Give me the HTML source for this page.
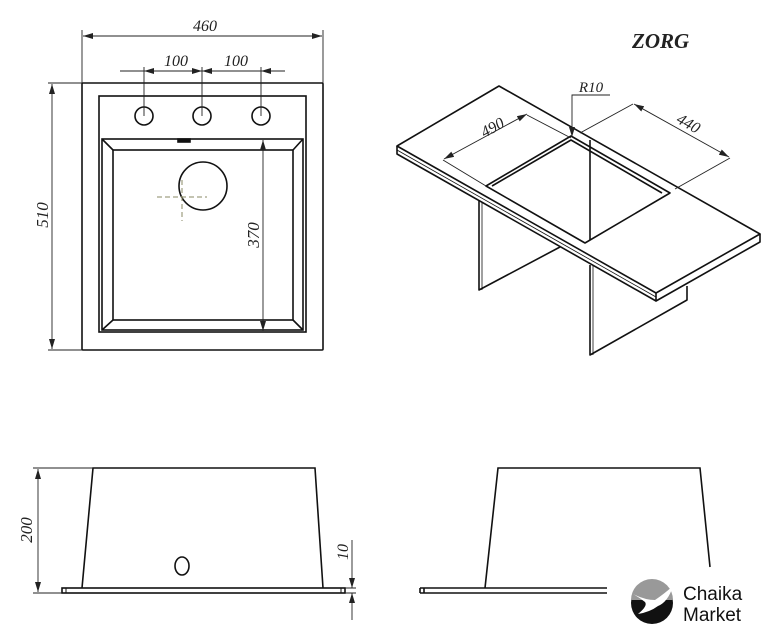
<!DOCTYPE html>
<html><head><meta charset="utf-8"><style>
html,body{margin:0;padding:0;background:#fff;}
svg{display:block;}
text{font-family:"Liberation Serif",serif;font-style:italic;fill:#222;}
</style></head><body>
<svg width="782" height="640" viewBox="0 0 782 640" xmlns="http://www.w3.org/2000/svg">
<defs>
<marker id="a" viewBox="0 0 10 6" refX="10" refY="3" markerWidth="10" markerHeight="6" orient="auto-start-reverse" markerUnits="userSpaceOnUse"><path d="M0,0 L10,3 L0,6 z" fill="#222"/></marker>
</defs>
<g stroke="#111" fill="none" stroke-width="1.6">
<rect x="82" y="83" width="241" height="267" rx="1"/>
<rect x="99" y="96" width="207" height="236"/>
<rect x="102" y="139" width="201" height="191"/>
<rect x="113" y="150" width="180" height="170"/>
<path d="M102,139 L113,150 M303,139 L293,150 M102,330 L113,320 M303,330 L293,320"/>
<circle cx="144" cy="116" r="9"/><circle cx="202" cy="116" r="9"/><circle cx="261" cy="116" r="9"/>
<circle cx="203" cy="186" r="24"/>
<rect x="178" y="139" width="12" height="3" fill="#111"/>
</g>
<g stroke="#886" stroke-width="1" stroke-dasharray="5,3"><path d="M157,197 H207 M182,180 V221"/></g>
<g stroke="#222" stroke-width="0.9" fill="none">
<path d="M82,30 V83 M323,30 V83" />
<path d="M83,36 H322" marker-start="url(#a)" marker-end="url(#a)"/>
<path d="M144,67 V116 M202,67 V116 M261,67 V116"/>
<path d="M120,71 H144 M202,71 H144" marker-end="url(#a)"/>
<path d="M202,71 H285 M261,71 H202" />
<path d="M180,71 H202" marker-end="url(#a)"/><path d="M225,71 H202" marker-end="url(#a)"/><path d="M285,71 H261" marker-end="url(#a)"/>
<path d="M48,83 H82 M48,350 H82"/>
<path d="M52,84 V349" marker-start="url(#a)" marker-end="url(#a)"/>
<path d="M263,140 V331" marker-start="url(#a)" marker-end="url(#a)"/>
</g>
<text x="205" y="31" font-size="16" text-anchor="middle">460</text>
<text x="176" y="66" font-size="16" text-anchor="middle">100</text>
<text x="236" y="66" font-size="16" text-anchor="middle">100</text>
<text transform="translate(48,215) rotate(-90)" font-size="17" text-anchor="middle">510</text>
<text transform="translate(259,235) rotate(-90)" font-size="17" text-anchor="middle">370</text>
<text x="632" y="48" font-size="21" font-weight="bold">ZORG</text>
<g stroke="#111" fill="none" stroke-width="1.6" stroke-linejoin="round">
<path d="M397,146 L499,86 L760,234 L656,293 Z" fill="#fff"/>
<path d="M397,146 V154 L656,301 V293 M656,301 L760,242 V234"/>
<path d="M397,150 L656,297" stroke-width="0.8"/>
<path d="M486,186 L571,136 L670,193 L585,243 Z"/>
<path d="M492,186 L571,140 L662,193"/>
<path d="M590,140 V240"/>
<path d="M479,200 V290 L560,247"/>
<path d="M482,202 V290" stroke-width="0.8"/>
<path d="M590,265 V355 L687,300 V286"/>
<path d="M593,266 V355" stroke-width="0.8"/>
</g>
<g stroke="#222" stroke-width="0.9" fill="none">
<path d="M443,160 L486,186 M527,115 L571,138"/>
<path d="M444,159 L527,114" marker-start="url(#a)" marker-end="url(#a)"/>
<path d="M633,104 L580,133 M730,158 L675,189"/>
<path d="M634,104 L729,157" marker-start="url(#a)" marker-end="url(#a)"/>
<path d="M610,95 H572 V137" marker-end="url(#a)"/>
</g>
<text transform="translate(495,132) rotate(-29)" font-size="16" text-anchor="middle">490</text>
<text transform="translate(686,128) rotate(29)" font-size="16" text-anchor="middle">440</text>
<text x="591" y="92" font-size="15" text-anchor="middle">R10</text>
<g stroke="#111" fill="none" stroke-width="1.6">
<path d="M82,588 L93,468 H315 L323,588"/>
<rect x="62" y="588" width="283" height="5"/>
<path d="M66,588 V593 M341,588 V593" stroke-width="1"/>
<ellipse cx="182" cy="566" rx="7" ry="9"/>
<path d="M485,588 L498,468 H700 L710,567"/>
<path d="M420,588 H607 M420,593 H607 M420,588 V593 M424,588 V593"/>
</g>
<g stroke="#222" stroke-width="0.9" fill="none">
<path d="M33,468 H93 M33,593 H62"/>
<path d="M38,469 V592" marker-start="url(#a)" marker-end="url(#a)"/>
<path d="M345,588 H356 M345,593 H356"/>
<path d="M352,540 V588" marker-end="url(#a)"/>
<path d="M352,620 V593" marker-end="url(#a)"/>
</g>
<text transform="translate(32,530) rotate(-90)" font-size="17" text-anchor="middle">200</text>
<text transform="translate(348,552) rotate(-90)" font-size="16" text-anchor="middle">10</text>
<circle cx="652" cy="603" r="21" fill="#111"/>
<path d="M631,600 A21,21 0 0 1 673,600 Z" fill="#999"/>
<path d="M633,594 Q645,600 655,600 Q664,594 673,586 Q668,602 658,606 Q650,612 638,614 Q648,606 645,602 Q640,598 633,594 Z" fill="#fff"/>
<text x="683" y="600" style="font-family:'Liberation Sans',sans-serif;font-style:normal;font-size:19px;fill:#111">Chaika</text>
<text x="683" y="621" style="font-family:'Liberation Sans',sans-serif;font-style:normal;font-size:19px;fill:#111">Market</text>
</svg>
</body></html>
